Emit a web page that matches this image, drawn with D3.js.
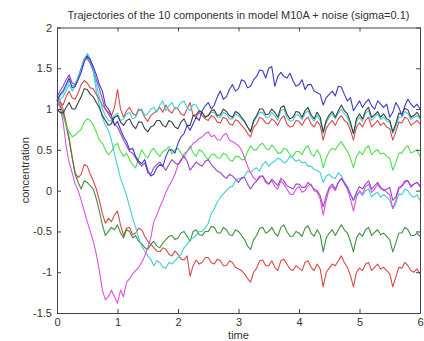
<!DOCTYPE html>
<html>
<head>
<meta charset="utf-8">
<script src="https://cdn.jsdelivr.net/npm/d3@7"></script>
<style>
  html, body { margin: 0; padding: 0; background: #fff; }
  svg { display: block; font-family: "Liberation Sans", Arial, sans-serif; }
</style>
</head>
<body>
<div id="chart"></div>
<script>
// sample times 0, 0.05, ... 6 (one row below = 0.5 time units)
const times = d3.range(0, 121).map((i) => i / 20)

const blue = [
  1.10, 1.18, 1.22, 1.30, 1.38, 1.26, 1.28, 1.36, 1.45, 1.58,
  1.65, 1.60, 1.52, 1.42, 1.30, 1.22, 1.05, 1.00, 0.92, 0.80,
  0.85, 0.75, 0.66, 0.60, 0.50, 0.52, 0.42, 0.36, 0.33, 0.38,
  0.25, 0.18, 0.20, 0.28, 0.32, 0.30, 0.42, 0.50, 0.50, 0.46,
  0.58, 0.66, 0.70, 0.80, 0.74, 0.82, 0.90, 0.86, 0.98, 1.04,
  1.08, 1.00, 1.05, 1.15, 1.22, 1.12, 1.15, 1.24, 1.30, 1.22,
  1.25, 1.36, 1.34, 1.26, 1.28, 1.36, 1.40, 1.48, 1.47, 1.38,
  1.50, 1.52, 1.28, 1.40, 1.45, 1.40, 1.38, 1.44, 1.35, 1.28,
  1.30, 1.36, 1.24, 1.30, 1.30, 1.22, 1.20, 1.18, 1.05, 1.14,
  1.18, 1.22, 1.16, 1.28, 1.27, 1.18, 1.10, 1.14, 0.98, 1.04,
  1.10, 1.02, 1.08, 1.12, 1.04, 1.00, 1.10, 1.06, 1.02, 1.06,
  0.90, 0.96, 1.08, 1.02, 0.92, 1.04, 1.12, 1.06, 1.02, 1.06,
  1.00]
const purple = [
  1.15, 1.22, 1.28, 1.36, 1.42, 1.32, 1.30, 1.38, 1.50, 1.60,
  1.62, 1.56, 1.48, 1.36, 1.25, 1.12, 1.00, 0.94, 0.88, 0.82,
  0.78, 0.70, 0.62, 0.55, 0.48, 0.46, 0.40, 0.34, 0.30, 0.34,
  0.22, 0.20, 0.28, 0.32, 0.35, 0.30, 0.25, 0.32, 0.38, 0.34,
  0.32, 0.38, 0.42, 0.36, 0.25, 0.30, 0.35, 0.32, 0.30, 0.36,
  0.38, 0.32, 0.28, 0.24, 0.22, 0.18, 0.15, 0.20, 0.18, 0.14,
  0.10, 0.16, 0.16, 0.08, 0.02, 0.08, 0.12, 0.18, 0.18, 0.12,
  0.08, 0.14, 0.10, 0.06, 0.15, 0.12, 0.06, 0.04, 0.02, 0.08,
  0.08, 0.04, 0.04, 0.10, 0.06, 0.02, 0.00, -0.06, -0.20, -0.06,
  0.04, 0.08, 0.02, 0.10, 0.15, 0.10, 0.04, -0.04, -0.12, -0.02,
  0.05, 0.02, 0.08, 0.12, 0.02, 0.06, 0.10, 0.04, 0.00, 0.02,
  0.04, -0.12, -0.08, 0.04, 0.06, 0.12, 0.12, 0.06, 0.08, 0.10,
  0.06]
const magenta = [
  1.10, 1.02, 0.85, 0.55, 0.35, 0.22, 0.08, 0.00, -0.12, -0.25,
  -0.38, -0.50, -0.62, -0.78, -0.98, -1.22, -1.34, -1.30, -1.22, -1.30,
  -1.38, -1.22, -1.30, -1.12, -1.08, -1.02, -0.98, -0.94, -0.88, -0.80,
  -0.70, -0.58, -0.38, -0.30, -0.20, -0.12, -0.02, 0.06, 0.12, 0.20,
  0.32, 0.36, 0.45, 0.48, 0.52, 0.58, 0.60, 0.64, 0.66, 0.70,
  0.72, 0.66, 0.68, 0.62, 0.62, 0.68, 0.70, 0.62, 0.60, 0.58,
  0.55, 0.50, 0.40, 0.30, 0.22, 0.16, 0.12, 0.16, 0.18, 0.10,
  0.08, 0.12, 0.05, 0.02, 0.12, 0.08, 0.02, -0.04, -0.05, 0.02,
  0.05, -0.02, 0.00, 0.06, 0.08, 0.00, -0.02, -0.10, -0.30, -0.12,
  0.02, 0.05, 0.00, 0.10, 0.15, 0.08, 0.02, -0.10, -0.25, -0.08,
  0.00, -0.04, 0.05, 0.08, -0.02, 0.02, 0.08, 0.02, 0.02, -0.02,
  -0.05, -0.22, -0.12, 0.02, 0.05, 0.10, 0.12, 0.04, 0.08, 0.10,
  0.05]
const redHigh = [
  1.15, 1.08, 1.05, 1.15, 1.22, 1.14, 1.12, 1.20, 1.30, 1.35,
  1.32, 1.26, 1.25, 1.18, 1.12, 1.05, 1.00, 0.96, 0.92, 1.02,
  1.24, 1.00, 0.90, 0.98, 1.02, 0.95, 0.92, 1.00, 0.98, 0.90,
  0.85, 0.92, 0.95, 0.98, 1.02, 0.96, 1.05, 0.98, 0.95, 1.02,
  1.00, 0.94, 0.92, 1.00, 1.08, 0.92, 0.90, 0.96, 0.92, 0.88,
  0.86, 0.92, 0.90, 0.84, 0.83, 0.90, 0.88, 0.82, 0.80, 0.87,
  0.85, 0.80, 0.76, 0.70, 0.66, 0.78, 0.82, 0.90, 0.88, 0.83,
  0.82, 0.88, 0.85, 0.80, 0.88, 0.92, 0.82, 0.78, 0.79, 0.86,
  0.85, 0.80, 0.87, 0.90, 0.82, 0.78, 0.85, 0.80, 0.62, 0.76,
  0.82, 0.86, 0.80, 0.88, 0.92, 0.86, 0.83, 0.74, 0.62, 0.78,
  0.83, 0.78, 0.86, 0.90, 0.78, 0.82, 0.86, 0.80, 0.83, 0.78,
  0.76, 0.62, 0.72, 0.84, 0.83, 0.90, 0.88, 0.80, 0.83, 0.86,
  0.82]
const black = [
  1.00, 0.96, 0.95, 1.02, 1.08, 1.00, 1.00, 1.08, 1.15, 1.25,
  1.24, 1.18, 1.15, 1.08, 1.02, 0.92, 0.86, 0.80, 0.82, 0.90,
  0.92, 0.84, 0.80, 0.86, 0.88, 0.80, 0.76, 0.84, 0.84, 0.76,
  0.72, 0.78, 0.80, 0.86, 0.86, 0.80, 0.78, 0.86, 0.84, 0.78,
  0.76, 0.84, 0.88, 0.80, 0.80, 0.92, 0.93, 0.98, 0.96, 0.90,
  0.92, 0.98, 0.99, 0.92, 0.93, 1.00, 0.97, 0.92, 0.90, 0.97,
  0.95, 0.90, 0.85, 0.78, 0.72, 0.86, 0.92, 1.00, 1.00, 0.93,
  0.94, 1.00, 0.96, 0.90, 1.02, 1.04, 0.94, 0.88, 0.90, 0.97,
  0.96, 0.90, 0.98, 1.02, 0.93, 0.88, 0.96, 0.90, 0.72, 0.86,
  0.93, 0.97, 0.90, 0.98, 1.05, 0.98, 0.94, 0.84, 0.70, 0.88,
  0.94, 0.88, 0.98, 1.02, 0.90, 0.93, 0.97, 0.90, 0.94, 0.88,
  0.86, 0.72, 0.82, 0.95, 0.94, 1.01, 0.99, 0.90, 0.92, 0.96,
  0.90]
const cyanHigh = [
  1.05, 1.12, 1.15, 1.22, 1.30, 1.22, 1.28, 1.38, 1.48, 1.60,
  1.68, 1.62, 1.50, 1.30, 1.15, 1.00, 0.92, 0.86, 0.85, 0.92,
  0.95, 0.86, 0.88, 0.94, 0.96, 0.88, 0.90, 0.98, 1.00, 0.92,
  0.94, 1.00, 1.02, 0.96, 1.05, 1.10, 0.98, 1.04, 1.08, 1.00,
  1.02, 1.08, 1.10, 1.02, 0.98, 1.06, 1.05, 0.98, 0.95, 0.90,
  0.92, 0.96, 0.96, 0.90, 0.90, 0.96, 0.94, 0.88, 0.88, 0.94,
  0.92, 0.88, 0.84, 0.78, 0.74, 0.84, 0.90, 0.96, 0.96, 0.90,
  0.90, 0.96, 0.92, 0.86, 0.98, 1.00, 0.90, 0.85, 0.86, 0.93,
  0.92, 0.87, 0.95, 0.98, 0.90, 0.85, 0.92, 0.86, 0.70, 0.83,
  0.90, 0.94, 0.88, 0.95, 1.00, 0.94, 0.90, 0.80, 0.70, 0.85,
  0.90, 0.85, 0.95, 0.98, 0.86, 0.90, 0.94, 0.87, 0.90, 0.85,
  0.84, 0.70, 0.78, 0.90, 0.90, 0.97, 0.95, 0.87, 0.90, 0.92,
  0.88]
const cyanLow = [
  1.10, 1.16, 1.20, 1.26, 1.35, 1.28, 1.30, 1.40, 1.50, 1.62,
  1.66, 1.58, 1.45, 1.22, 1.05, 0.90, 0.80, 0.74, 0.62, 0.45,
  0.30, 0.15, 0.05, -0.06, -0.20, -0.34, -0.45, -0.58, -0.68, -0.74,
  -0.80, -0.84, -0.92, -0.86, -0.88, -0.94, -0.95, -0.88, -0.90, -0.86,
  -0.82, -0.78, -0.70, -0.66, -0.60, -0.58, -0.55, -0.50, -0.50, -0.46,
  -0.40, -0.28, -0.22, -0.14, -0.08, -0.04, 0.00, 0.04, 0.05, 0.12,
  0.15, 0.14, 0.18, 0.24, 0.22, 0.26, 0.28, 0.24, 0.32, 0.36,
  0.30, 0.34, 0.36, 0.40, 0.38, 0.34, 0.36, 0.42, 0.40, 0.36,
  0.38, 0.34, 0.35, 0.30, 0.30, 0.26, 0.25, 0.22, 0.10, 0.18,
  0.20, 0.16, 0.15, 0.22, 0.18, 0.10, 0.05, -0.04, -0.12, -0.04,
  -0.02, -0.06, 0.00, 0.02, -0.08, -0.04, -0.02, -0.08, -0.05, -0.08,
  -0.12, -0.22, -0.16, -0.04, -0.05, 0.02, 0.00, -0.06, -0.08, -0.05,
  -0.12]
const green = [
  1.00, 0.96, 0.92, 0.80, 0.72, 0.66, 0.68, 0.72, 0.75, 0.84,
  0.88, 0.86, 0.80, 0.72, 0.62, 0.58, 0.50, 0.44, 0.48, 0.55,
  0.58, 0.48, 0.42, 0.46, 0.38, 0.32, 0.28, 0.40, 0.50, 0.44,
  0.40, 0.48, 0.52, 0.46, 0.42, 0.48, 0.50, 0.54, 0.45, 0.50,
  0.52, 0.46, 0.40, 0.48, 0.55, 0.46, 0.42, 0.50, 0.48, 0.42,
  0.38, 0.44, 0.45, 0.40, 0.40, 0.46, 0.44, 0.38, 0.36, 0.42,
  0.42, 0.38, 0.38, 0.48, 0.55, 0.50, 0.50, 0.56, 0.58, 0.52,
  0.50, 0.56, 0.52, 0.46, 0.46, 0.52, 0.50, 0.44, 0.42, 0.48,
  0.48, 0.44, 0.52, 0.55, 0.45, 0.42, 0.50, 0.44, 0.28, 0.40,
  0.48, 0.52, 0.50, 0.56, 0.60, 0.54, 0.48, 0.40, 0.28, 0.42,
  0.48, 0.44, 0.52, 0.55, 0.44, 0.48, 0.50, 0.45, 0.46, 0.42,
  0.40, 0.25, 0.34, 0.46, 0.46, 0.52, 0.55, 0.46, 0.48, 0.50,
  0.42]
const darkGreen = [
  1.12, 1.05, 0.95, 0.80, 0.62, 0.40, 0.20, 0.10, 0.02, 0.12,
  0.10, 0.06, 0.02, -0.10, -0.25, -0.42, -0.55, -0.50, -0.45, -0.48,
  -0.42, -0.52, -0.58, -0.48, -0.50, -0.58, -0.55, -0.62, -0.65, -0.70,
  -0.72, -0.66, -0.62, -0.68, -0.70, -0.64, -0.60, -0.56, -0.55, -0.60,
  -0.58, -0.52, -0.50, -0.56, -0.62, -0.50, -0.48, -0.54, -0.55, -0.50,
  -0.50, -0.44, -0.45, -0.52, -0.52, -0.45, -0.48, -0.54, -0.55, -0.48,
  -0.50, -0.55, -0.60, -0.68, -0.72, -0.60, -0.55, -0.46, -0.45, -0.52,
  -0.50, -0.45, -0.52, -0.56, -0.45, -0.42, -0.50, -0.56, -0.56, -0.50,
  -0.52, -0.56, -0.46, -0.43, -0.52, -0.56, -0.48, -0.54, -0.75, -0.58,
  -0.52, -0.48, -0.55, -0.48, -0.42, -0.48, -0.52, -0.62, -0.75, -0.58,
  -0.52, -0.56, -0.48, -0.45, -0.55, -0.51, -0.48, -0.54, -0.52, -0.56,
  -0.60, -0.75, -0.64, -0.52, -0.52, -0.45, -0.48, -0.55, -0.55, -0.52,
  -0.56]
const redLow = [
  1.18, 1.10, 1.00, 0.84, 0.65, 0.42, 0.22, 0.16, 0.20, 0.32,
  0.30, 0.20, 0.12, 0.02, -0.12, -0.28, -0.40, -0.34, -0.38, -0.30,
  -0.25, -0.42, -0.55, -0.46, -0.45, -0.54, -0.52, -0.46, -0.48, -0.56,
  -0.62, -0.66, -0.70, -0.74, -0.75, -0.70, -0.72, -0.78, -0.80, -0.74,
  -0.78, -0.84, -0.85, -0.80, -1.05, -0.92, -0.85, -0.90, -0.88, -0.82,
  -0.82, -0.88, -0.90, -0.84, -0.86, -0.92, -0.92, -0.86, -0.88, -0.94,
  -0.96, -0.98, -1.02, -1.08, -1.12, -1.00, -0.95, -0.86, -0.85, -0.92,
  -0.92, -0.86, -0.94, -0.98, -0.86, -0.84, -0.90, -0.96, -0.98, -0.92,
  -0.95, -0.98, -0.88, -0.86, -0.94, -0.98, -0.90, -0.96, -1.18, -1.00,
  -0.95, -0.90, -0.92, -0.86, -0.80, -0.88, -0.94, -1.04, -1.18, -1.00,
  -0.95, -0.98, -0.90, -0.88, -0.98, -0.94, -0.90, -0.96, -0.94, -0.98,
  -1.02, -1.18, -1.06, -0.94, -0.95, -0.88, -0.92, -0.98, -1.00, -0.96,
  -1.02]

const xTicks = [0, 1, 2, 3, 4, 5, 6]
const yTicks = [-1.5, -1, -0.5, 0, 0.5, 1, 1.5, 2]

const series = [
  { values: redLow, color: '#d84a4a' },
  { values: darkGreen, color: '#3f8f3f' },
  { values: green, color: '#4fe04f' },
  { values: cyanLow, color: '#3fcfd4' },
  { values: magenta, color: '#df4fdf' },
  { values: purple, color: '#9a44cc' },
  { values: redHigh, color: '#d84a4a' },
  { values: cyanHigh, color: '#3fcfd4' },
  { values: black, color: '#3c3c3c' },
  { values: blue, color: '#3a3ac4' },
]

const width = 424
const height = 341
const margin = { top: 27.5, right: 4, bottom: 28, left: 57 }

const svg = d3.select('#chart')
  .append('svg')
  .attr('width', width)
  .attr('height', height)

const x = d3.scaleLinear().domain([0, 6]).range([margin.left, width - margin.right])
const y = d3.scaleLinear().domain([-1.5, 2]).range([height - margin.bottom, margin.top])

const line = d3.line()
  .x((d, i) => x(times[i]))
  .y((d) => y(d))

svg.append('g')
  .selectAll('path')
  .data(series)
  .join('path')
  .attr('fill', 'none')
  .attr('stroke', (s) => s.color)
  .attr('stroke-width', 1.1)
  .attr('stroke-linejoin', 'round')
  .attr('d', (s) => line(s.values))

// MATLAB style box with inward ticks on every side
const fmt = (d) => String(d)
const axes = [
  { g: d3.axisBottom(x).tickValues(xTicks).tickFormat(fmt), at: `translate(0,${y(-1.5)})` },
  { g: d3.axisTop(x).tickValues(xTicks).tickFormat(''), at: `translate(0,${y(2)})` },
  { g: d3.axisLeft(y).tickValues(yTicks).tickFormat(fmt), at: `translate(${x(0)},0)` },
  { g: d3.axisRight(y).tickValues(yTicks).tickFormat(''), at: `translate(${x(6)},0)` },
]
axes.forEach((a) => {
  const g = svg.append('g')
    .attr('transform', a.at)
    .call(a.g.tickSizeInner(-4).tickSizeOuter(0).tickPadding(5))
  g.attr('font-family', null).attr('font-size', 11)
  g.selectAll('path, line').attr('stroke', '#444')
  g.selectAll('text').attr('fill', '#333')
})

svg.append('text')
  .attr('x', (x(0) + x(6)) / 2)
  .attr('y', 19)
  .attr('text-anchor', 'middle')
  .attr('font-size', 11)
  .attr('fill', '#333')
  .text('Trajectories of the 10 components in model M10A + noise (sigma=0.1)')

svg.append('text')
  .attr('x', (x(0) + x(6)) / 2)
  .attr('y', 339)
  .attr('text-anchor', 'middle')
  .attr('font-size', 11)
  .attr('fill', '#333')
  .text('time')

svg.append('text')
  .attr('transform', `translate(29,${(y(-1.5) + y(2)) / 2}) rotate(-90)`)
  .attr('text-anchor', 'middle')
  .attr('font-size', 11)
  .attr('fill', '#333')
  .text('concentration')
</script>
</body>
</html>
